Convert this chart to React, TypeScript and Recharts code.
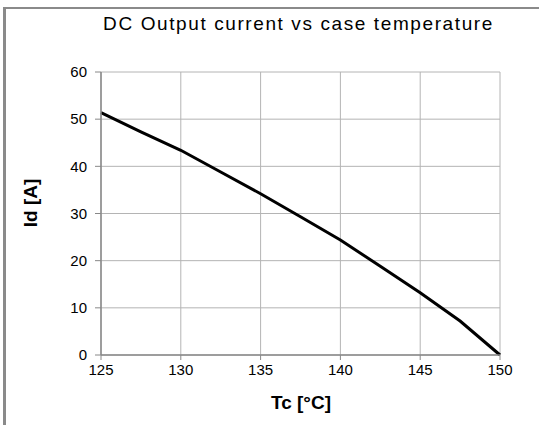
import React from 'react';
import { LineChart, Line, XAxis, YAxis, CartesianGrid } from 'recharts';

const temperatures = [125, 127.5, 130, 132.5, 135, 137.5, 140, 142.5, 145, 147.5, 150];
const currents = [51.4, 47.3, 43.4, 38.8, 34.2, 29.3, 24.4, 18.8, 13.2, 7.2, 0];
const xTicks = [125, 130, 135, 140, 145, 150];
const yTicks = [0, 10, 20, 30, 40, 50, 60];

const data = temperatures.map((t, i) => ({ tc: t, id: currents[i] }));

const FONT = '"Liberation Sans", Arial, sans-serif';

export default function App() {
  return (
    <div style={{ position: 'absolute', left: 0, top: 0, width: 539, height: 425, overflow: 'hidden', background: '#fff', fontFamily: FONT }}>
      <div style={{ position: 'absolute', left: 3, top: 7, width: 540, height: 430, borderTop: '2px solid #8a8a8a', borderLeft: '3px solid #8a8a8a' }} />
      <LineChart width={539} height={425} data={data} margin={{ top: 72, right: 39, bottom: 40, left: 0 }}>
        <CartesianGrid stroke="#b4b4b4" strokeWidth={1} />
        <XAxis
          dataKey="tc"
          type="number"
          domain={[125, 150]}
          ticks={xTicks}
          height={30}
          axisLine={{ stroke: '#888', strokeWidth: 1.5 }}
          tickLine={{ stroke: '#888' }}
          tickSize={5}
          tickMargin={4}
          tick={{ fill: '#000', fontSize: 15, fontFamily: FONT }}
        />
        <YAxis
          type="number"
          domain={[0, 60]}
          ticks={yTicks}
          width={101}
          axisLine={{ stroke: '#888', strokeWidth: 1.5 }}
          tickLine={{ stroke: '#888' }}
          tickSize={6}
          tickMargin={8}
          tick={{ fill: '#000', fontSize: 15, fontFamily: FONT }}
        />
        <Line type="linear" dataKey="id" stroke="#000" strokeWidth={3} dot={false} isAnimationActive={false} />
      </LineChart>
      <div style={{ position: 'absolute', left: 0, width: 597, top: 13, textAlign: 'center', fontSize: 19, letterSpacing: 1.6, color: '#000', whiteSpace: 'nowrap' }}>
        DC Output current vs case temperature
      </div>
      <div style={{ position: 'absolute', left: 201, width: 200, top: 392, textAlign: 'center', fontSize: 19, fontWeight: 'bold', color: '#000' }}>
        Tc [°C]
      </div>
      <div style={{ position: 'absolute', left: 31, top: 203, width: 0, height: 0 }}>
        <div style={{ position: 'absolute', left: -60, top: -12, width: 120, textAlign: 'center', transform: 'rotate(-90deg)', fontSize: 19, fontWeight: 'bold', color: '#000', lineHeight: '24px' }}>
          Id [A]
        </div>
      </div>
    </div>
  );
}
